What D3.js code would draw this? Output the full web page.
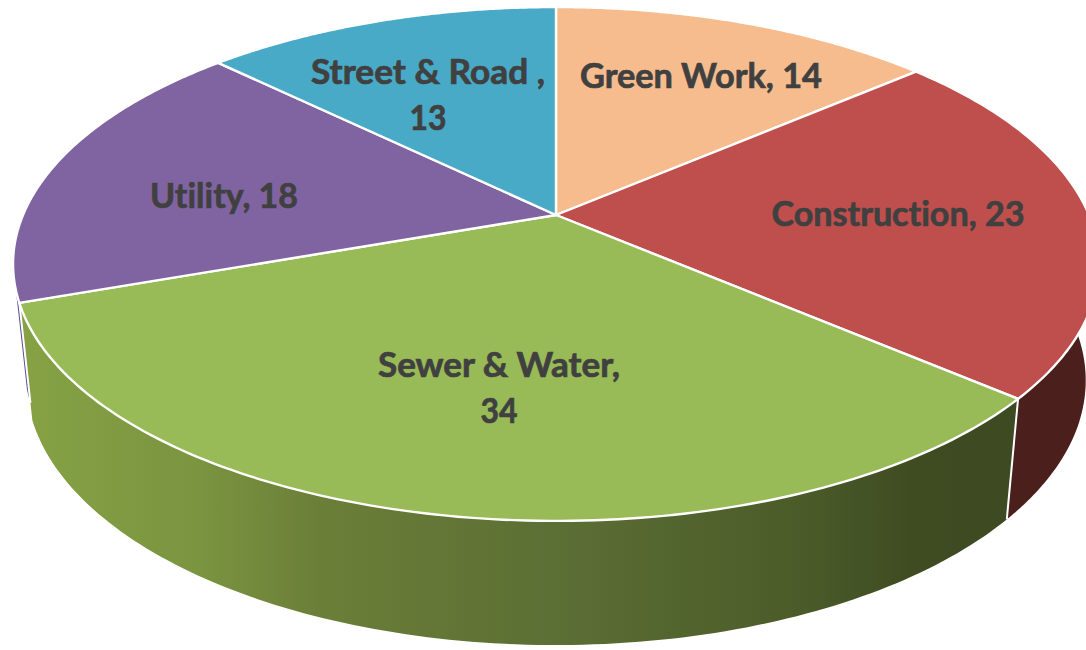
<!DOCTYPE html>
<html>
<head>
<meta charset="utf-8">
<script src="https://cdnjs.cloudflare.com/ajax/libs/d3/7.8.5/d3.min.js"></script>
<style>
html,body{margin:0;padding:0;background:#fff;overflow:hidden}
svg{display:block}
text{font-family:Lato,"Open Sans",sans-serif;font-weight:700;fill:#404040;stroke:#404040;stroke-width:0.7px;font-size:34px;text-anchor:middle;font-variant-ligatures:none}
</style>
</head>
<body>
<svg id="c" width="1086" height="650"></svg>
<script>
const categories = ["Green Work", "Construction", "Sewer & Water", "Utility", "Street & Road"];
const values = [14, 23, 34, 18, 13];
const topColors = ["#F6BC8E", "#BF4F4D", "#98BA57", "#8064A2", "#48AAC6"];
const labelLines = [["Green Work, 14"], ["Construction, 23"], ["Sewer & Water,", "34"], ["Utility, 18"], ["Street & Road ,", "13"]];
const labelCenters = [[701, 76], [898, 214], [499, 365], [224, 196], [428, 72]];
const labelWidths = [[242], [253], [242, 37], [148], [234, 37]];
const lineGap = 46;

// Perspective projection of a tilted disc of given depth (0 = top face, 1 = bottom face)
const cx = 556, tilt = 0.1906;
const topFace = {R: 533, S: 247.6, y: 215};
const botFace = {R: 520, S: 255, y: 330};
const mix = (a, b, t) => a + (b - a) * t;
function project(theta, d) {
  const X = Math.sin(theta), Y = -Math.cos(theta), w = 1 - tilt * Y;
  return [cx + mix(topFace.R, botFace.R, d) * X / w, mix(topFace.y, botFace.y, d) + mix(topFace.S, botFace.S, d) * Y / w];
}
const line = d3.line();
const arcPoints = (a, b, d) => d3.range(0, 121).map(i => project(a + (b - a) * i / 120, d));

const arcs = d3.pie().sort(null).value(v => v)(values);
const svg = d3.select("#c");

const grad = svg.append("defs").append("linearGradient").attr("id", "sewerWall")
  .attr("gradientUnits", "userSpaceOnUse").attr("x1", 20).attr("x2", 1010).attr("y1", 0).attr("y2", 0);
[[0, "#86A244"], [0.18, "#7A9440"], [0.3, "#6B7F38"], [0.55, "#5B6E34"], [0.78, "#4B5C29"], [0.9, "#3F4C22"], [1, "#3D4A22"]]
  .forEach(s => grad.append("stop").attr("offset", s[0]).attr("stop-color", s[1]));

// Side walls
const [green, constr, sewer, util] = arcs;
const wall = (a, b, d) => line(arcPoints(a, b, 0).concat(arcPoints(b, a, d))) + "Z";
svg.append("path").attr("d", wall(util.startAngle, util.startAngle + 0.05, 0.85)).attr("fill", "#5C4C94");
svg.append("path").attr("d", wall(1.4, constr.endAngle, 1)).attr("fill", "#4A1F1C");
svg.append("path").attr("d", wall(sewer.startAngle, sewer.endAngle, 1)).attr("fill", "url(#sewerWall)");

// Wall seams
[[sewer.startAngle, 1], [sewer.endAngle, 0.85]].forEach(s =>
  svg.append("path").attr("d", line([project(s[0], 0), project(s[0], s[1])]))
    .attr("stroke", "#fff").attr("stroke-width", 2).attr("fill", "none"));

// Top faces
svg.selectAll("path.slice").data(arcs).join("path").attr("class", "slice")
  .attr("d", d => line([[cx, topFace.y]].concat(arcPoints(d.startAngle, d.endAngle, 0))) + "Z")
  .attr("fill", (d, i) => topColors[i])
  .attr("stroke", "#fff").attr("stroke-width", 2.4).attr("stroke-linejoin", "round");

// Labels
labelLines.forEach((ls, i) => {
  const [x, y] = labelCenters[i];
  ls.forEach((t, j) => svg.append("text").attr("x", x).attr("y", y + j * lineGap).attr("dy", "0.35em")
    .attr("textLength", labelWidths[i][j]).attr("lengthAdjust", "spacingAndGlyphs").text(t));
});
</script>
</body>
</html>
